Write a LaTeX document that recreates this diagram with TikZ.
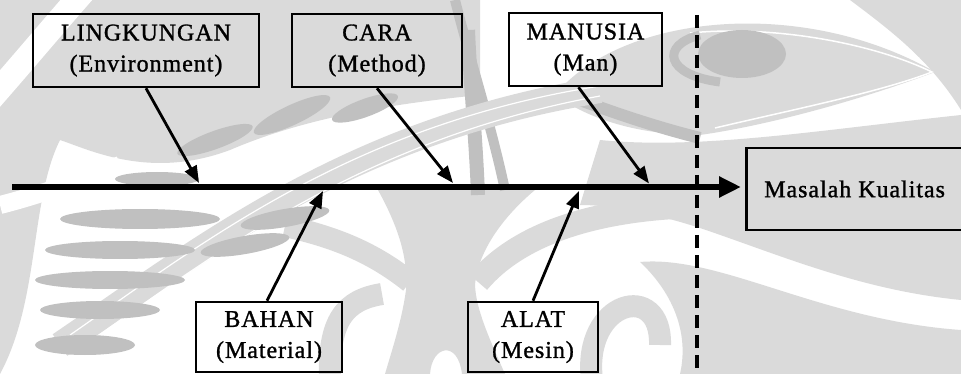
\documentclass[tikz,border=0pt]{standalone}
\usepackage{fontspec}
\setmainfont{Liberation Serif}[LetterSpace=4, FakeBold=1.2]
\usetikzlibrary{arrows.meta}

\definecolor{wmlight}{RGB}{218,218,218}
\definecolor{wmdark}{RGB}{192,192,192}

\tikzset{
  causebox/.style={draw=black, line width=2.5pt, inner sep=0pt,
    align=center, font=\fontsize{24}{31}\selectfont},
  causearrow/.style={line width=2.8pt, -{Triangle[length=17pt,width=13pt]}},
  spine/.style={line width=6.5pt, -{Triangle[length=22pt,width=20pt]}},
  divider/.style={line width=3.8pt, dash pattern=on 13pt off 7pt},
  rib/.style={fill=wmdark},
  band/.style={draw=wmlight},
}

\begin{document}
\begin{tikzpicture}[x=1pt, y=-1pt]
  \useasboundingbox (0,0) rectangle (961,374);
  \begin{scope}
  \clip (0,0) rectangle (961,374);

  % ---- faint emblem in the background ----
  % upper left sweep
  \fill[wmlight] (0,0) -- (480,0) -- (480,95)
    .. controls (380,105) and (300,120) .. (230,150)
    .. controls (150,180) and (90,150) .. (60,140)
    .. controls (30,200) and (40,300) .. (0,374) -- cycle;
  \draw[white, line width=24pt] (85,-10) .. controls (50,30) and (25,60) .. (-10,100);
  \draw[white, line width=18pt] (0,205) .. controls (40,195) and (80,180) .. (120,165);
  % band around the effect box
  \fill[wmlight] (600,140) .. controls (700,150) and (820,130) .. (961,115)
    -- (961,300) .. controls (860,290) and (780,255) .. (700,228)
    .. controls (650,212) and (610,205) .. (580,205) -- cycle;
  % lower right
  \fill[wmlight] (640,262) .. controls (720,255) and (820,320) .. (961,330)
    -- (961,374) -- (680,374) .. controls (690,330) and (670,290) .. (640,262) -- cycle;
  % top-right wedge
  \fill[wmlight] (850,0) -- (961,0) -- (961,110) .. controls (930,60) and (890,30) .. (850,0) -- cycle;
  % central trunk with its branches
  \fill[wmlight] (378,190) .. controls (400,230) and (408,260) .. (406,290)
    .. controls (402,320) and (392,350) .. (385,374) -- (430,374)
    .. controls (432,345) and (458,340) .. (462,374) -- (505,374)
    .. controls (490,340) and (476,310) .. (475,285)
    .. controls (478,250) and (505,215) .. (535,190) -- cycle;
  \draw[band, line width=22pt] (410,282) .. controls (370,250) and (330,236) .. (285,226);
  \draw[band, line width=24pt] (478,282) .. controls (520,232) and (600,208) .. (700,206);
  \draw[band, line width=22pt] (330,380) .. controls (328,320) and (345,300) .. (382,294);
  \draw[band, line width=22pt] (592,380) .. controls (582,300) and (662,280) .. (660,345);
  % eye
  \fill[wmlight] (555,95) .. controls (620,15) and (800,-5) .. (935,72)
    .. controls (860,100) and (770,125) .. (700,135)
    .. controls (640,135) and (590,120) .. (555,95) -- cycle;
  \draw[white, line width=1.5pt] (715,128) .. controls (800,108) and (880,92) .. (932,72)
    .. controls (870,42) and (770,25) .. (690,33);
  \fill[wmdark] (742,54) ellipse [x radius=44, y radius=24];
  \draw[wmdark, line width=9pt] (700,35) .. controls (660,45) and (665,75) .. (720,82);
  \draw[wmdark, line width=12pt] (580,100) .. controls (620,115) and (660,128) .. (700,138);
  % tail strokes
  \draw[wmdark, line width=14pt] (468,30) .. controls (470,80) and (476,140) .. (478,195);
  \draw[wmdark, line width=10pt] (455,0) .. controls (470,60) and (490,120) .. (505,190);
  % fish backbone
  \draw[band, line width=26pt] (60,345) .. controls (200,250) and (350,130) .. (600,90);
  \draw[white, line width=1.2pt] (70,335) .. controls (200,245) and (350,125) .. (600,86);
  \draw[white, line width=1.2pt] (85,345) .. controls (210,258) and (360,140) .. (600,96);
  % ribs
  \fill[rib] (157,179) ellipse [x radius=42, y radius=7];
  \fill[rib, rotate around={20:(215,140)}] (215,140) ellipse [x radius=40, y radius=9];
  \fill[rib, rotate around={25:(292,115)}] (292,115) ellipse [x radius=42, y radius=10];
  \fill[rib, rotate around={20:(365,108)}] (365,108) ellipse [x radius=35, y radius=9];
  \fill[rib] (140,219) ellipse [x radius=80, y radius=10];
  \fill[rib] (120,250) ellipse [x radius=75, y radius=9];
  \fill[rib] (110,280) ellipse [x radius=75, y radius=9];
  \fill[rib] (100,310) ellipse [x radius=60, y radius=9];
  \fill[rib] (85,345) ellipse [x radius=50, y radius=10];
  \fill[rib, rotate around={10:(285,218)}] (285,218) ellipse [x radius=45, y radius=9];
  \fill[rib, rotate around={10:(245,245)}] (245,245) ellipse [x radius=45, y radius=9];

  % ---- diagram ----
  % dashed boundary between causes and effect
  \coordinate (divtop) at (697,15);
  \coordinate (divbot) at (697,380);
  \draw[divider] (divtop) -- (divbot);

  % main spine
  \coordinate (spinestart) at (12,187);
  \coordinate (spineend) at (741,187);
  \draw[spine] (spinestart) -- (spineend);

  % cause boxes above the spine
  \node[causebox, minimum width=226pt, minimum height=73pt] (env) at (146,50.5)
    {LINGKUNGAN\\(Environment)};
  \node[causebox, minimum width=170pt, minimum height=73pt] (method) at (377,50.5)
    {CARA\\(Method)};
  \node[causebox, minimum width=153pt, minimum height=73pt] (man) at (585.5,49.5)
    {MANUSIA\\(Man)};

  % cause boxes below the spine
  \node[causebox, minimum width=146pt, minimum height=70pt] (material) at (269,337)
    {BAHAN\\(Material)};
  \node[causebox, minimum width=130pt, minimum height=70pt] (machine) at (533,337)
    {ALAT\\(Mesin)};

  % effect box
  \node[causebox, anchor=west, inner xsep=18pt, minimum height=82pt] (effect) at (745,189)
    {Masalah Kualitas};

  % points where the causes meet the spine
  \coordinate (penv) at (199,183);
  \coordinate (pmethod) at (453,183);
  \coordinate (pman) at (649,183.5);
  \coordinate (pmaterial) at (323,191);
  \coordinate (pmachine) at (579,191);

  \draw[causearrow] (env.south) -- (penv);
  \draw[causearrow] (method.south) -- (pmethod);
  \draw[causearrow] ([xshift=-7pt]man.south) -- (pman);
  \draw[causearrow] ([xshift=-2pt]material.north) -- (pmaterial);
  \draw[causearrow] (machine.north) -- (pmachine);
  \end{scope}
\end{tikzpicture}
\end{document}
